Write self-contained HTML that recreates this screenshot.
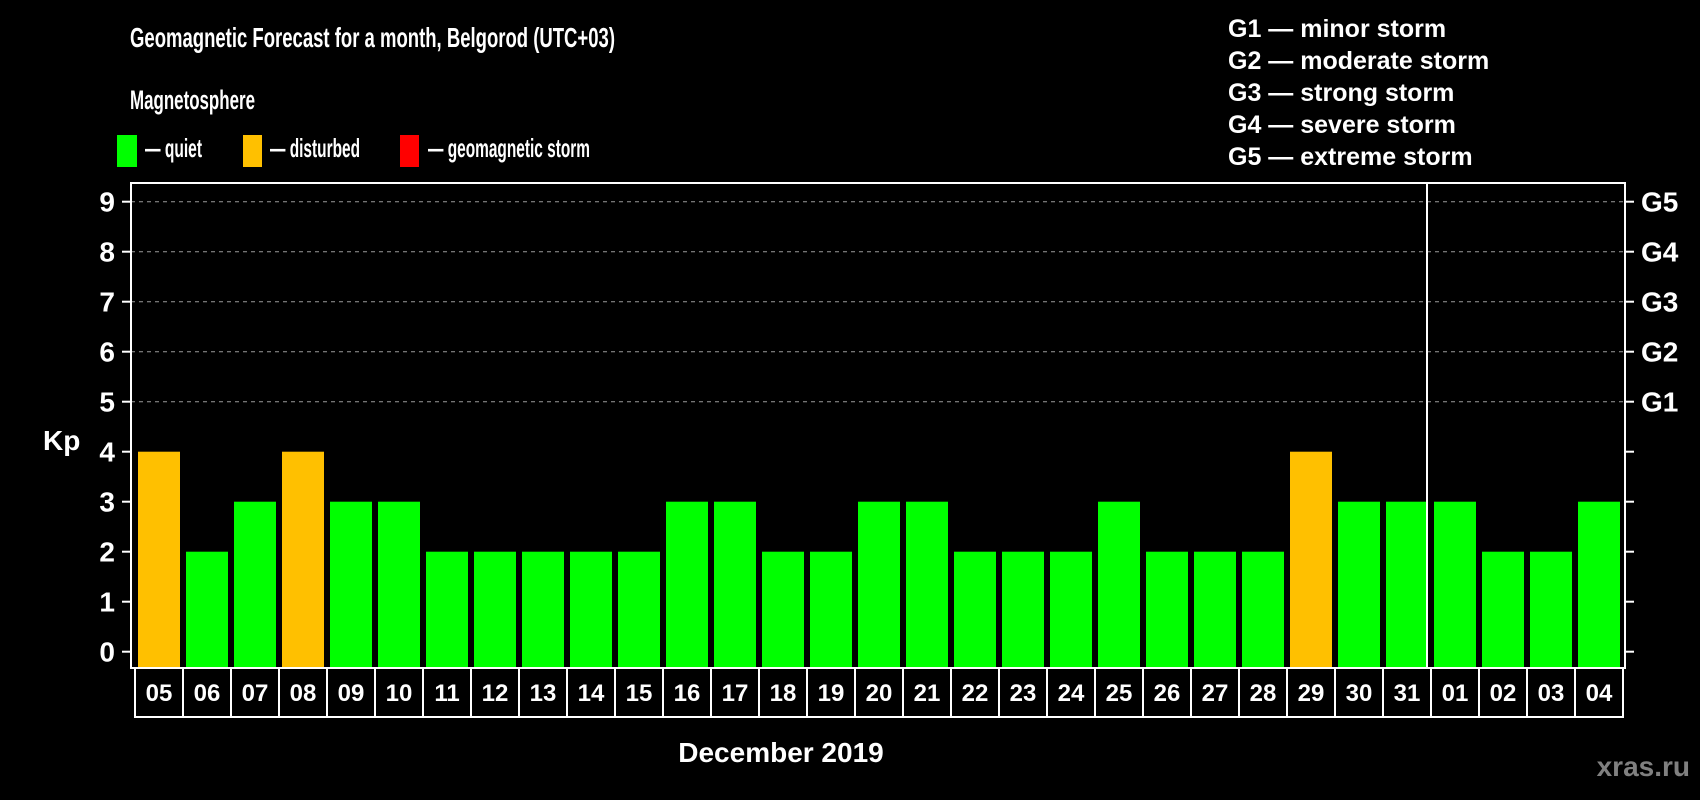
<!DOCTYPE html>
<html><head><meta charset="utf-8"><style>
html,body{margin:0;padding:0;background:#000;}
svg{display:block;font-family:"Liberation Sans",Arial,sans-serif;font-weight:bold;}
</style></head><body>
<svg id="chart" width="1700" height="800" viewBox="0 0 1700 800" xmlns="http://www.w3.org/2000/svg">
<rect width="1700" height="800" fill="#000"/>
<text x="130" y="47" fill="#fff" font-size="28" textLength="485" lengthAdjust="spacingAndGlyphs">Geomagnetic Forecast for a month, Belgorod (UTC+03)</text>
<text x="130" y="109" fill="#fff" font-size="27" textLength="125" lengthAdjust="spacingAndGlyphs">Magnetosphere</text>
<g>
<rect x="117" y="135" width="20" height="32" fill="#00ff00"/>
<text x="145" y="157" fill="#fff" font-size="26" textLength="57" lengthAdjust="spacingAndGlyphs">— quiet</text></g>
<g>
<rect x="243" y="135" width="19" height="32" fill="#ffc000"/>
<text x="270" y="157" fill="#fff" font-size="26" textLength="90" lengthAdjust="spacingAndGlyphs">— disturbed</text></g>
<g>
<rect x="400" y="135" width="19" height="32" fill="#ff0000"/>
<text x="428" y="157" fill="#fff" font-size="26" textLength="162" lengthAdjust="spacingAndGlyphs">— geomagnetic storm</text></g>
<g fill="#fff" font-size="25">
<text x="1228" y="37">G1 — minor storm</text>
<text x="1228" y="69">G2 — moderate storm</text>
<text x="1228" y="101">G3 — strong storm</text>
<text x="1228" y="133">G4 — severe storm</text>
<text x="1228" y="165">G5 — extreme storm</text>
</g>
<g id="grid"></g>
<g id="bars"></g>
<g id="axes"></g>
<text x="43" y="450" fill="#fff" font-size="28">Kp</text>
<text x="781" y="762" fill="#fff" font-size="28" text-anchor="middle">December 2019</text>
<text x="1690" y="776" fill="#808080" font-size="28" text-anchor="end">xras.ru</text>
</svg>
<script>
const days = ["05","06","07","08","09","10","11","12","13","14","15","16","17","18","19","20","21","22","23","24","25","26","27","28","29","30","31","01","02","03","04"];
const kpValues = [4,2,3,4,3,3,2,2,2,2,2,3,3,2,2,3,3,2,2,2,3,2,2,2,4,3,3,3,2,2,3];
const yTicks = [0,1,2,3,4,5,6,7,8,9];
const gLabels = ["G1","G2","G3","G4","G5"];
const gLevels = [5,6,7,8,9];
const monthBreakIndex = 27;

const NS = "http://www.w3.org/2000/svg";
const L = 131, R = 1625, T = 183, B = 668;
const x0 = 135, step = 48, bw = 42;
const y = v => 651.7 - v * 50;
const xc = i => x0 + step * i + step / 2;
function mk(tag, attrs, parent) {
  const e = document.createElementNS(NS, tag);
  for (const k in attrs) e.setAttribute(k, attrs[k]);
  parent.appendChild(e);
  return e;
}
const grid = document.getElementById('grid'), bars = document.getElementById('bars'), axes = document.getElementById('axes');
gLevels.forEach(v => {
  const l = mk('line', {x1: L, x2: R, y1: y(v), y2: y(v), stroke: '#9a9a9a', 'stroke-width': 1, 'stroke-dasharray': '4,4'}, grid);
  
  
});
kpValues.forEach((v, i) => {
  const r = mk('rect', {x: xc(i) - bw / 2, y: y(v), width: bw, height: B - y(v), fill: v >= 5 ? '#ff0000' : (v >= 4 ? '#ffc000' : '#00ff00')}, bars);
  
  
});
const frame = mk('rect', {x: L, y: T, width: R - L, height: B - T, fill: 'none', stroke: '#fff', 'stroke-width': 2}, axes);


const divx = x0 + step * monthBreakIndex - 0;
const div = mk('line', {x1: divx - 4, x2: divx - 4, y1: T, y2: B, stroke: '#fff', 'stroke-width': 2}, axes);


yTicks.forEach(v => {
  mk('line', {x1: L - 9, x2: L, y1: y(v), y2: y(v), stroke: '#fff', 'stroke-width': 2}, axes);
  mk('line', {x1: R, x2: R + 9, y1: y(v), y2: y(v), stroke: '#fff', 'stroke-width': 2}, axes);
  const t = mk('text', {x: 115, y: y(v) + 10, fill: '#fff', 'font-size': 28, 'text-anchor': 'end'}, axes);
  t.textContent = v;
  
  
});
gLabels.forEach((g, i) => {
  const t = mk('text', {x: 1641, y: y(gLevels[i]) + 10, fill: '#fff', 'font-size': 28}, axes);
  t.textContent = g;
  
  
});
days.forEach((d, i) => {
  const cx = x0 + step * i;
  const c = mk('rect', {x: cx, y: B, width: step, height: 49, fill: 'none', stroke: '#fff', 'stroke-width': 2}, axes);
  
  
  const t = mk('text', {x: xc(i), y: 701, fill: '#fff', 'font-size': 24, 'text-anchor': 'middle'}, axes);
  t.textContent = d;
  
  
});
</script>
</body></html>
